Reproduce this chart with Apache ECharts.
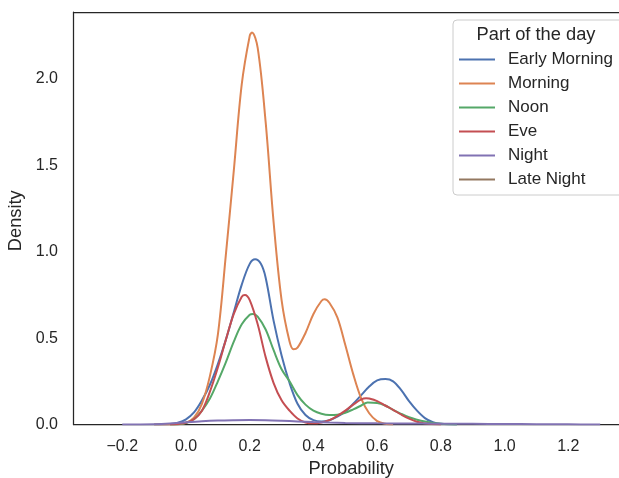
<!DOCTYPE html>
<html>
<head>
<meta charset="utf-8">
<script src="https://cdn.jsdelivr.net/npm/echarts@6/dist/echarts.min.js"></script>
<style>html,body{margin:0;padding:0;background:#fff;}#c{width:619px;height:478px;}</style>
</head>
<body>
<div id="c"></div>
<script>
// ---- data ----
const seriesNames = ['Early Morning', 'Morning', 'Noon', 'Eve', 'Night', 'Late Night'];
const seriesColors = ['#4c72b0', '#dd8452', '#55a868', '#c44e52', '#8172b3', '#937860'];

const earlyMorningX = [-0.1, -0.05, -0.025, 0, 0.025, 0.05, 0.075, 0.1, 0.125, 0.15, 0.175, 0.2, 0.217, 0.235, 0.25, 0.275, 0.3, 0.325, 0.35, 0.375, 0.4, 0.425, 0.45, 0.475, 0.5, 0.525, 0.55, 0.575, 0.6, 0.626, 0.65, 0.675, 0.7, 0.725, 0.75, 0.775, 0.8, 0.85];
const earlyMorningY = [0, 0.003, 0.01, 0.03, 0.07, 0.14, 0.23, 0.35, 0.49, 0.65, 0.81, 0.93, 0.956, 0.93, 0.85, 0.60, 0.40, 0.24, 0.12, 0.055, 0.025, 0.017, 0.025, 0.045, 0.075, 0.12, 0.17, 0.22, 0.255, 0.263, 0.25, 0.2, 0.135, 0.08, 0.037, 0.013, 0.004, 0];

const morningX = [-0.1, -0.025, 0, 0.025, 0.05, 0.075, 0.1, 0.125, 0.15, 0.175, 0.2, 0.207, 0.225, 0.25, 0.275, 0.3, 0.325, 0.3375, 0.35, 0.375, 0.4, 0.425, 0.435, 0.45, 0.475, 0.5, 0.525, 0.55, 0.575, 0.6, 0.625, 0.65];
const morningY = [0, 0.002, 0.01, 0.04, 0.12, 0.28, 0.52, 0.98, 1.47, 1.97, 2.25, 2.27, 2.18, 1.75, 1.17, 0.72, 0.48, 0.435, 0.445, 0.53, 0.64, 0.715, 0.725, 0.705, 0.62, 0.46, 0.29, 0.15, 0.065, 0.02, 0.004, 0];

const noonX = [-0.05, -0.025, 0, 0.025, 0.05, 0.075, 0.1, 0.125, 0.15, 0.175, 0.2, 0.21, 0.225, 0.25, 0.275, 0.3, 0.325, 0.35, 0.375, 0.4, 0.425, 0.45, 0.475, 0.5, 0.525, 0.55, 0.57, 0.6, 0.625, 0.65, 0.675, 0.7, 0.725, 0.75, 0.775, 0.8, 0.85];
const noonY = [0, 0.002, 0.008, 0.03, 0.08, 0.15, 0.25, 0.36, 0.48, 0.58, 0.635, 0.64, 0.625, 0.55, 0.43, 0.32, 0.25, 0.17, 0.115, 0.08, 0.062, 0.055, 0.057, 0.068, 0.088, 0.11, 0.128, 0.125, 0.11, 0.085, 0.062, 0.042, 0.028, 0.017, 0.009, 0.004, 0];

const eveX = [-0.05, -0.025, 0, 0.025, 0.05, 0.075, 0.1, 0.125, 0.15, 0.175, 0.185, 0.2, 0.225, 0.25, 0.275, 0.3, 0.325, 0.35, 0.375, 0.4, 0.425, 0.45, 0.475, 0.5, 0.525, 0.55, 0.565, 0.575, 0.6, 0.625, 0.65, 0.675, 0.7, 0.725, 0.75, 0.8];
const eveY = [0, 0.003, 0.01, 0.03, 0.08, 0.19, 0.33, 0.49, 0.64, 0.74, 0.75, 0.72, 0.58, 0.39, 0.24, 0.14, 0.08, 0.035, 0.012, 0.007, 0.012, 0.025, 0.05, 0.08, 0.115, 0.145, 0.152, 0.15, 0.135, 0.11, 0.085, 0.058, 0.034, 0.016, 0.006, 0];

const nightX = [-0.2, -0.1, -0.05, 0, 0.05, 0.1, 0.15, 0.2, 0.25, 0.3, 0.35, 0.4, 0.45, 0.5, 0.6, 0.7, 0.8, 0.9, 1.0, 1.1, 1.2, 1.3];
const nightY = [0, 0.002, 0.006, 0.013, 0.019, 0.023, 0.025, 0.026, 0.025, 0.022, 0.018, 0.014, 0.011, 0.009, 0.007, 0.006, 0.005, 0.004, 0.003, 0.002, 0.001, 0];

const lateNightX = [];
const lateNightY = [];

const xTickValues = [-0.2, 0, 0.2, 0.4, 0.6, 0.8, 1.0, 1.2];
const yTickValues = [0, 0.5, 1.0, 1.5, 2.0];

const xLabel = 'Probability';
const yLabel = 'Density';
const legendTitle = 'Part of the day';

// ---- build ----
const xs = [earlyMorningX, morningX, noonX, eveX, nightX, lateNightX];
const ys = [earlyMorningY, morningY, noonY, eveY, nightY, lateNightY];
const fmt = v => Number(v).toFixed(1).replace('-', '\u2212');
const FONT = 'Liberation Sans, Arial, sans-serif';
const TXT = '#262626';
const X_MIN = -0.3531, X_MAX = 1.359;

const series = seriesNames.map((name, i) => ({
  name: name,
  type: 'line',
  xAxisIndex: 0,
  data: xs[i].map((x, k) => [x, ys[i][k]]),
  smooth: 0.35,
  symbol: 'none',
  showSymbol: false,
  lineStyle: { width: 2, color: seriesColors[i] },
  itemStyle: { color: seriesColors[i] },
  z: 3
}));

const spine = { show: true, onZero: false, lineStyle: { color: TXT, width: 1.25 } };

const chart = echarts.init(document.getElementById('c'), null, { renderer: 'canvas' });
chart.setOption({
  animation: false,
  backgroundColor: '#ffffff',
  textStyle: { fontFamily: FONT, color: TXT },
  grid: { left: 73.5, top: 12, right: 0, bottom: 53.5, show: false, containLabel: false, outerBoundsMode: 'none' },
  xAxis: [{
    type: 'value', min: X_MIN, max: X_MAX, position: 'bottom',
    axisLine: spine, axisTick: { show: false }, splitLine: { show: false },
    axisLabel: { customValues: xTickValues, formatter: fmt, fontSize: 16, color: TXT, fontFamily: FONT, margin: 14.5 },
    name: xLabel, nameLocation: 'middle', nameGap: 32.5,
    nameTextStyle: { fontSize: 18.3, color: TXT, fontFamily: FONT, padding: [0, 0, 0, 10] }
  }, {
    type: 'value', min: X_MIN, max: X_MAX, position: 'top',
    axisLine: spine, axisTick: { show: false }, splitLine: { show: false }, axisLabel: { show: false }
  }],
  yAxis: {
    type: 'value', min: 0, max: 2.388,
    axisLine: spine, axisTick: { show: false }, splitLine: { show: false },
    axisLabel: { customValues: yTickValues, formatter: fmt, fontSize: 16, color: TXT, fontFamily: FONT, margin: 15.5 },
    name: yLabel, nameLocation: 'middle', nameGap: 45,
    nameTextStyle: { fontSize: 18.3, color: TXT, fontFamily: FONT, padding: [0, 5, 0, 0] }
  },
  legend: {
    data: seriesNames,
    orient: 'vertical',
    left: 459, top: 51,
    padding: 0,
    icon: 'path://M0,6 L36,6 L36,8 L0,8 Z',
    itemWidth: 36, itemHeight: 14, itemGap: 7,
    textStyle: { fontSize: 17, color: TXT, fontFamily: FONT, lineHeight: 17, padding: [0, 0, 0, 8] },
    z: 10
  },
  graphic: [
    { type: 'rect', z: 5, shape: { x: 453, y: 20, width: 170, height: 175, r: 4 },
      style: { fill: 'rgba(255,255,255,0.8)', stroke: '#cccccc', lineWidth: 1 } },
    { type: 'text', z: 6, x: 536, y: 35,
      style: { text: legendTitle, fontSize: 18.3, fontFamily: FONT, fill: TXT, textAlign: 'center', textVerticalAlign: 'middle' } }
  ],
  series: series
});
</script>
</body>
</html>
